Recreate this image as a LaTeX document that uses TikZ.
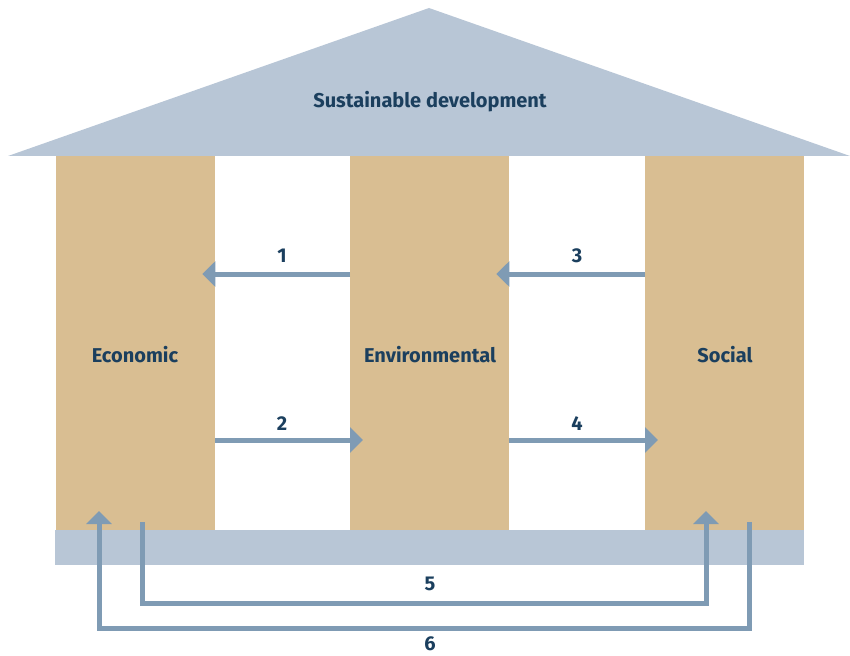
\documentclass[tikz,border=0pt]{standalone}
\usepackage{fontspec}
\setmainfont{Fira Sans}
\usetikzlibrary{arrows.meta}
\definecolor{roofc}{HTML}{B8C6D6}
\definecolor{colc}{HTML}{D9BE92}
\definecolor{arrc}{HTML}{7F9BB4}
\definecolor{txtc}{HTML}{1B3F5E}
\begin{document}
\begin{tikzpicture}[x=1pt,y=-1pt,
  pillar/.style={fill=colc,draw=none,minimum width=159pt,minimum height=374pt,inner sep=0pt,anchor=north west},
  lbl/.style={text=txtc,font=\fontsize{20}{24}\selectfont\bfseries,inner sep=0pt},
  arr/.style={draw=arrc,line width=5pt,line cap=butt,line join=miter,-{Triangle[width=25pt,length=13pt]}}]
\useasboundingbox (0,0) rectangle (850,655);
% roof
\fill[roofc] (8,156) -- (429,8) -- (850,156) -- cycle;
\node[lbl] (title) at (430,102) {Sustainable development};
% base
\fill[roofc] (55,530) rectangle (804,565);
% pillars
\node[pillar] (econ) at (56,156) {};
\node[pillar] (env) at (350,156) {};
\node[pillar] (soc) at (645,156) {};
\node[lbl] (econt) at (135,355) {Economic};
\node[lbl] (envt) at (430,355) {Environmental};
\node[lbl] (soct) at (725,355) {Social};
% horizontal arrows
\coordinate (a1s) at (env.west |- 0,274);
\coordinate (a1e) at ([xshift=-13pt]econ.east |- 0,274);
\draw[arr] (a1s) -- (a1e);
\coordinate (a2s) at (econ.east |- 0,440);
\coordinate (a2e) at ([xshift=13pt]env.west |- 0,440);
\draw[arr] (a2s) -- (a2e);
\coordinate (a3s) at (soc.west |- 0,274);
\coordinate (a3e) at ([xshift=-13pt]env.east |- 0,274);
\draw[arr] (a3s) -- (a3e);
\coordinate (a4s) at (env.east |- 0,440);
\coordinate (a4e) at ([xshift=13pt]soc.west |- 0,440);
\draw[arr] (a4s) -- (a4e);
\node[lbl] (n1) at (282,256) {1};
\node[lbl] (n2) at (282,424) {2};
\node[lbl] (n3) at (577,256) {3};
\node[lbl] (n4) at (577,424) {4};
% bottom loops
\coordinate (b5s) at (142,522);
\coordinate (b5e) at (706,511);
\draw[arr] (b5s) -- (142,603) -- (706,603) -- (b5e);
\coordinate (b6s) at (749.5,522);
\coordinate (b6e) at (99,511);
\draw[arr] (b6s) -- (749.5,628) -- (99,628) -- (b6e);
\node[lbl] (n5) at (430,584) {5};
\node[lbl] (n6) at (430,644) {6};
\end{tikzpicture}
\end{document}
